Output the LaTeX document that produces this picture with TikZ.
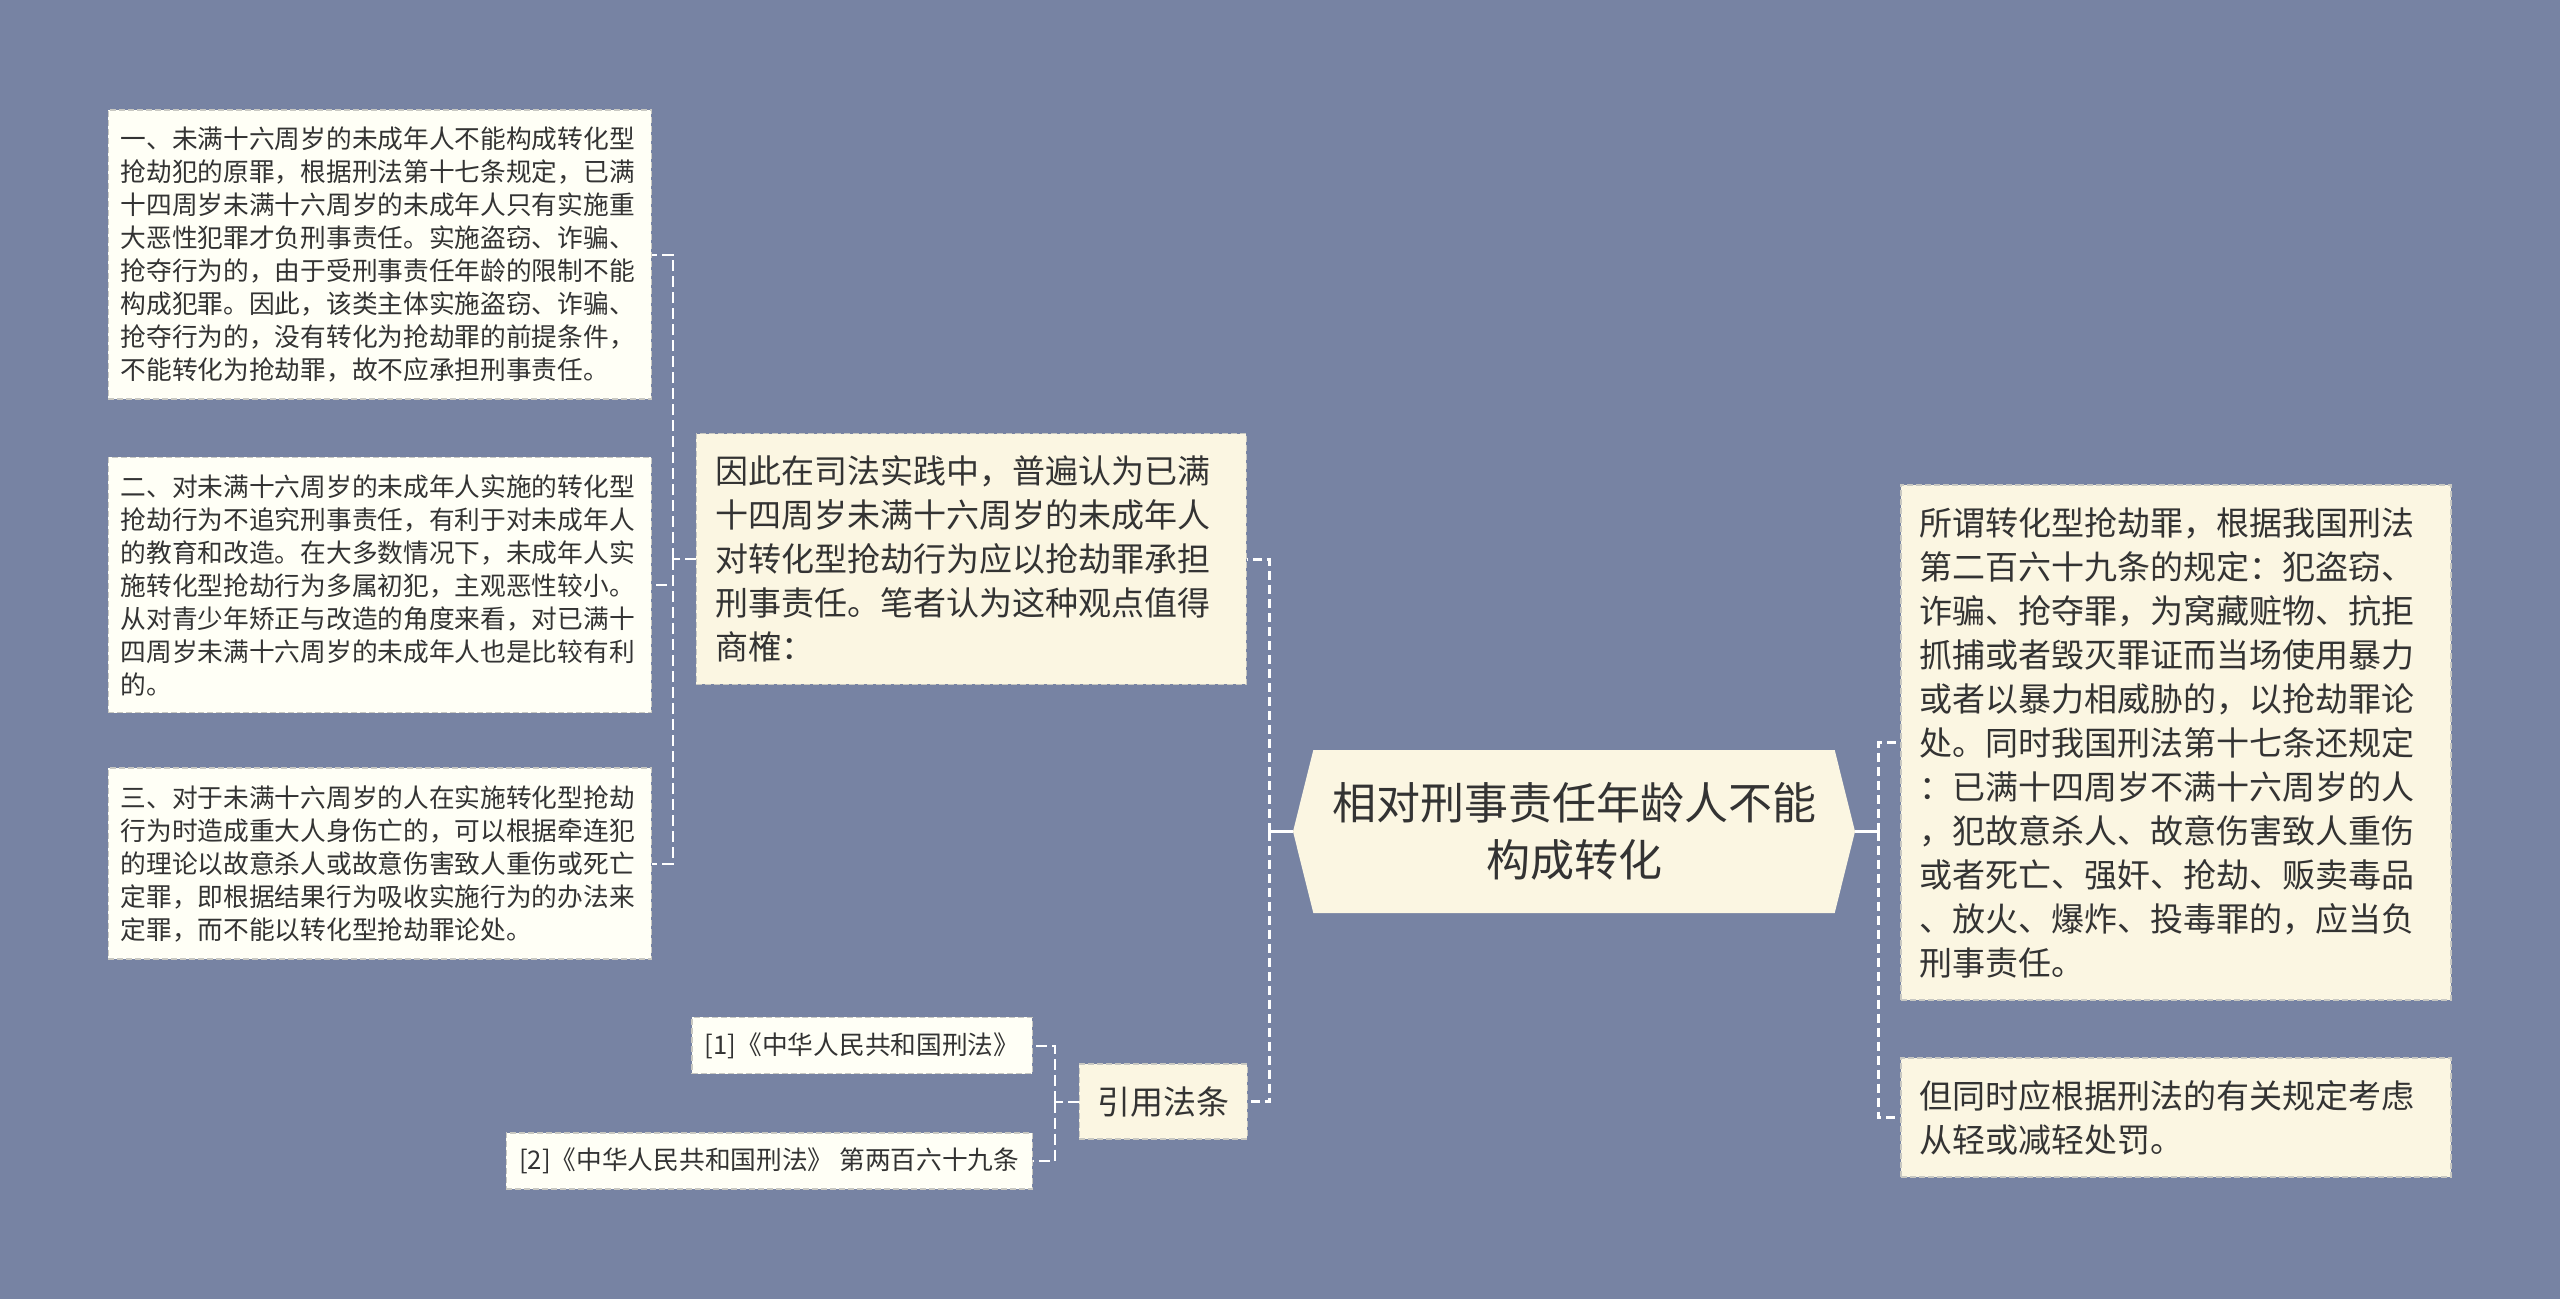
\documentclass[tikz,border=0pt]{standalone}
\usepackage{fontspec}
\setmainfont{Noto Sans CJK SC}
\usetikzlibrary{positioning,shapes.symbols}

\definecolor{bgslate}{HTML}{7783A3}
\definecolor{paper}{HTML}{FFFFF6}
\definecolor{cream}{HTML}{FBF6E2}
\definecolor{inkgray}{HTML}{333333}
\definecolor{edgegray}{HTML}{C8C8C2}

\tikzset{
  note/.style={draw=edgegray, dash pattern=on 6pt off 3pt, line width=1.5pt,
    fill=paper, text=inkgray, align=left, inner xsep=12.5pt, inner ysep=17pt,
    text width=518pt, font=\fontsize{25.7pt}{33pt}\selectfont},
  topic/.style={note, fill=cream, text width=512pt, inner xsep=19pt, inner ysep=22pt,
    font=\fontsize{33pt}{44pt}\selectfont},
  tag/.style={draw=edgegray, dash pattern=on 6pt off 3pt, line width=1.5pt,
    fill=cream, text=inkgray, inner xsep=18pt, inner ysep=22pt,
    font=\fontsize{33pt}{44pt}\selectfont},
  source/.style={tag, fill=paper, inner xsep=13pt, inner ysep=15pt,
    font=\fontsize{25.7pt}{33pt}\selectfont},
  trunk/.style={white, line width=3pt},
  branch/.style={white, line width=3pt, dash pattern=on 9pt off 5pt},
  twig/.style={white, line width=2pt, dash pattern=on 11pt off 5pt}
}

\begin{document}
\begin{tikzpicture}[x=1pt, y=-1pt]
\fill[bgslate] (0,0) rectangle (2560,1299);
\useasboundingbox (0,0) rectangle (2560,1299);

% central topic
\node[signal, signal from=nowhere, signal to=west and east, signal pointer angle=152,
  fill=cream, minimum width=562pt, minimum height=163pt, inner sep=0pt, align=center,
  text=inkgray, font=\fontsize{44pt}{57pt}\selectfont] (hex) at (1574,831.5)
  {相对刑事责任年龄人不能\\构成转化};

% left side
\node[topic, anchor=east] (view) at (1247,559) {因此在司法实践中，普遍认为已满\\十四周岁未满十六周岁的未成年人\\对转化型抢劫行为应以抢劫罪承担\\刑事责任。笔者认为这种观点值得\\商榷：};
\node[note, anchor=east] (arg1) at (652,254.5) {一、未满十六周岁的未成年人不能构成转化型\\抢劫犯的原罪，根据刑法第十七条规定，已满\\十四周岁未满十六周岁的未成年人只有实施重\\大恶性犯罪才负刑事责任。实施盗窃、诈骗、\\抢夺行为的，由于受刑事责任年龄的限制不能\\构成犯罪。因此，该类主体实施盗窃、诈骗、\\抢夺行为的，没有转化为抢劫罪的前提条件，\\不能转化为抢劫罪，故不应承担刑事责任。};
\node[note, anchor=east] (arg2) at (652,585) {二、对未满十六周岁的未成年人实施的转化型\\抢劫行为不追究刑事责任，有利于对未成年人\\的教育和改造。在大多数情况下，未成年人实\\施转化型抢劫行为多属初犯，主观恶性较小。\\从对青少年矫正与改造的角度来看，对已满十\\四周岁未满十六周岁的未成年人也是比较有利\\的。};
\node[note, anchor=east] (arg3) at (652,863.5) {三、对于未满十六周岁的人在实施转化型抢劫\\行为时造成重大人身伤亡的，可以根据牵连犯\\的理论以故意杀人或故意伤害致人重伤或死亡\\定罪，即根据结果行为吸收实施行为的办法来\\定罪，而不能以转化型抢劫罪论处。};
\node[tag, anchor=east] (cite) at (1248,1101.5) {引用法条};
\node[source, anchor=east] (cite1) at (1033,1045.5) {[1]《中华人民共和国刑法》};
\node[source, anchor=east] (cite2) at (1033,1161) {[2]《中华人民共和国刑法》 第两百六十九条};

% right side
\node[topic, anchor=west] (rule) at (1900,742.5) {所谓转化型抢劫罪，根据我国刑法\\第二百六十九条的规定：犯盗窃、\\诈骗、抢夺罪，为窝藏赃物、抗拒\\抓捕或者毁灭罪证而当场使用暴力\\或者以暴力相威胁的，以抢劫罪论\\处。同时我国刑法第十七条还规定\\：已满十四周岁不满十六周岁的人\\，犯故意杀人、故意伤害致人重伤\\或者死亡、强奸、抢劫、贩卖毒品\\、放火、爆炸、投毒罪的，应当负\\刑事责任。};
\node[topic, anchor=west] (mercy) at (1900,1117.5) {但同时应根据刑法的有关规定考虑\\从轻或减轻处罚。};

% connectors
\coordinate[left=23pt of hex.west] (hubL);
\coordinate[right=23pt of hex.east] (hubR);
\coordinate[left=23pt of view.west] (hubV);
\coordinate[left=24pt of cite.west] (hubC);
\draw[trunk] (hex.west) -- (hubL);
\draw[trunk] (hex.east) -- (hubR);
\draw[branch] (hubL) |- (view.east);
\draw[branch] (hubL) |- (cite.east);
\draw[branch] (hubR) |- (rule.west);
\draw[branch] (hubR) |- (mercy.west);
\draw[twig] (view.west) -- (hubV);
\foreach \n in {arg1,arg2,arg3} \draw[twig] (hubV) |- (\n.east);
\draw[twig] (cite.west) -- (hubC);
\foreach \n in {cite1,cite2} \draw[twig] (hubC) |- (\n.east);
\end{tikzpicture}
\end{document}
